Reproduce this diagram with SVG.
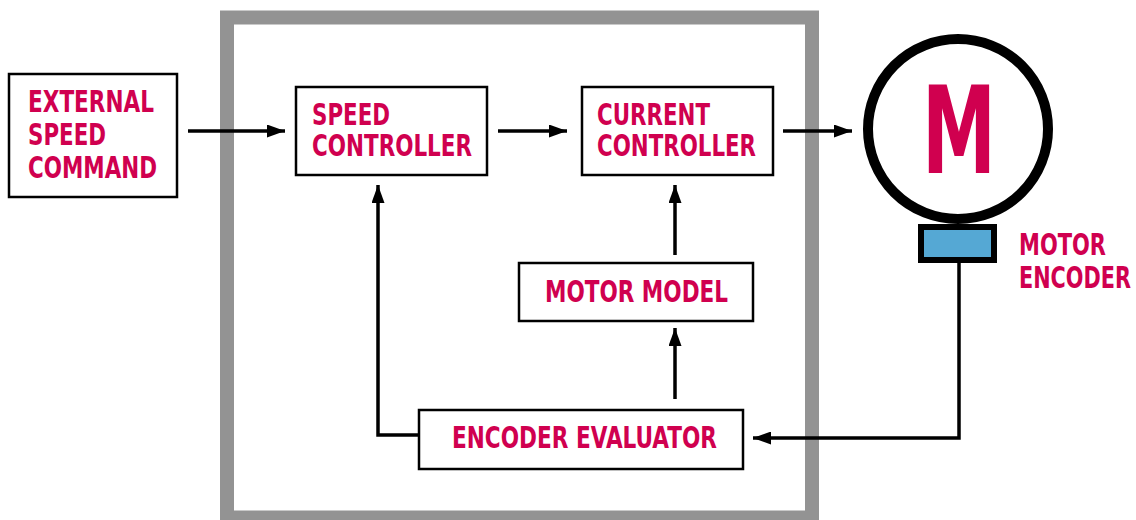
<svg xmlns="http://www.w3.org/2000/svg" width="1136" height="520" viewBox="0 0 1136 520">
<style>
.box{fill:#fff;stroke:#000;stroke-width:2.5}
.t{font-family:"DejaVu Sans Condensed","Liberation Sans Narrow","Liberation Sans",sans-serif;font-weight:bold;font-size:30px;fill:#D0004F}
.ln{fill:none;stroke:#000;stroke-width:3.5}
</style>
<defs>
<marker id="ah" viewBox="0 0 18 13" refX="18" refY="6.5" markerWidth="18" markerHeight="13" markerUnits="userSpaceOnUse" orient="auto">
<path d="M0,0 L18,6.5 L0,13 Z" fill="#000"/>
</marker>
</defs>
<rect width="1136" height="520" fill="#fff"/>
<rect id="frame" x="227" y="17.5" width="585" height="500" fill="none" stroke="#939393" stroke-width="14"/>
<g id="connectors">
<path class="ln" d="M188,131 H285" marker-end="url(#ah)"/>
<path class="ln" d="M498,131 H567" marker-end="url(#ah)"/>
<path class="ln" d="M783,131 H852" marker-end="url(#ah)"/>
<path class="ln" d="M675,255 V185" marker-end="url(#ah)"/>
<path class="ln" d="M675,399 V328" marker-end="url(#ah)"/>
<path class="ln" d="M419,435 H378 V185" marker-end="url(#ah)"/>
<path class="ln" d="M959,263 V438 H753" marker-end="url(#ah)"/>
</g>
<g id="external">
<rect class="box" x="9" y="74" width="168" height="123"/>
<text class="t" x="28" y="112" textLength="126" lengthAdjust="spacingAndGlyphs">EXTERNAL</text>
<text class="t" x="28" y="145" textLength="78" lengthAdjust="spacingAndGlyphs">SPEED</text>
<text class="t" x="28" y="178" textLength="129" lengthAdjust="spacingAndGlyphs">COMMAND</text>
</g>
<g id="speed-controller">
<rect class="box" x="296" y="87" width="191" height="88"/>
<text class="t" x="312" y="125" textLength="78" lengthAdjust="spacingAndGlyphs">SPEED</text>
<text class="t" x="312" y="156" textLength="160" lengthAdjust="spacingAndGlyphs">CONTROLLER</text>
</g>
<g id="current-controller">
<rect class="box" x="582" y="87" width="191" height="88"/>
<text class="t" x="597" y="125" textLength="113" lengthAdjust="spacingAndGlyphs">CURRENT</text>
<text class="t" x="597" y="156" textLength="159" lengthAdjust="spacingAndGlyphs">CONTROLLER</text>
</g>
<g id="motor-model">
<rect class="box" x="519" y="263" width="234" height="58"/>
<text class="t" x="545" y="302" textLength="183" lengthAdjust="spacingAndGlyphs">MOTOR MODEL</text>
</g>
<g id="encoder-evaluator">
<rect class="box" x="419" y="410" width="324" height="59"/>
<text class="t" x="452" y="448" textLength="265" lengthAdjust="spacingAndGlyphs">ENCODER EVALUATOR</text>
</g>
<g id="motor">
<circle cx="958" cy="129" r="90" fill="#fff" stroke="#000" stroke-width="10"/>
<text class="t" x="922" y="173" style="font-size:121px" textLength="74" lengthAdjust="spacingAndGlyphs">M</text>
</g>
<g id="motor-encoder">
<rect x="921" y="227" width="73" height="33" fill="#55A8D4" stroke="#000" stroke-width="6"/>
<text class="t" x="1019" y="255" textLength="87" lengthAdjust="spacingAndGlyphs">MOTOR</text>
<text class="t" x="1019" y="288" textLength="112" lengthAdjust="spacingAndGlyphs">ENCODER</text>
</g>
</svg>
